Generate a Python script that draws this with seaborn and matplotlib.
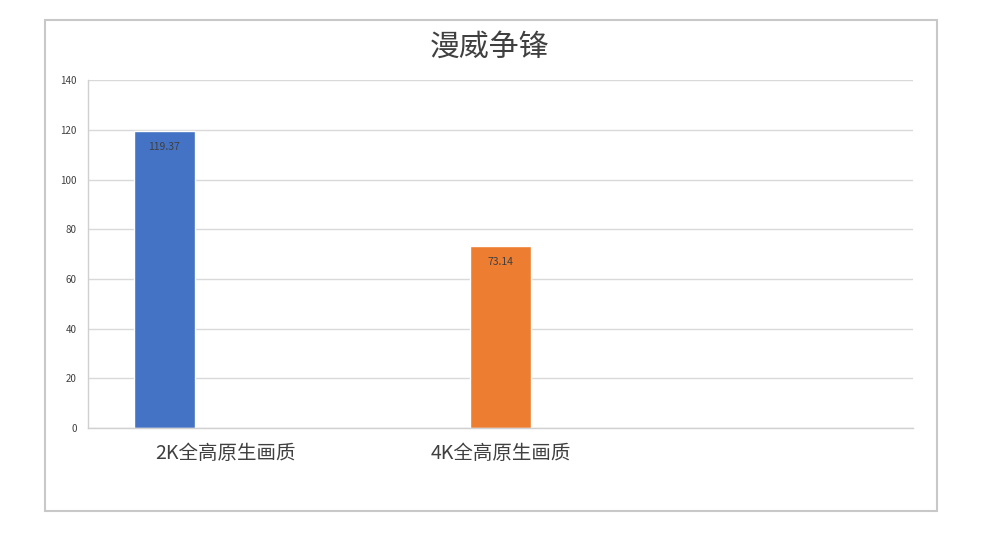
import numpy as np
import pandas as pd
import seaborn as sns
import matplotlib.pyplot as plt
from matplotlib.patches import Rectangle

# Data
categories = ['2K全高原生画质', '4K全高原生画质', '']
series = ['系列1', '系列2', '系列3']
bar_category = ['2K全高原生画质', '4K全高原生画质']
bar_series = ['系列1', '系列2']
bar_values = [119.37, 73.14]
y_ticks = [0, 20, 40, 60, 80, 100, 120, 140]

sns.set_style('white')
plt.rcParams['font.family'] = ['Noto Sans CJK SC', 'DejaVu Sans']

df = pd.DataFrame({'cat': bar_category, 'ser': bar_series, 'val': bar_values})

fig = plt.figure(figsize=(10, 5.53), dpi=100)
ax = fig.add_axes([0.088, 0.226, 0.825, 0.629])

palette = {'系列1': '#4472C4', '系列2': '#ED7D31', '系列3': '#A5A5A5'}
sns.barplot(data=df, x='cat', y='val', hue='ser', order=categories,
            hue_order=series, palette=palette, width=0.666, dodge=True,
            saturation=1, legend=False, ax=ax)

for cont in ax.containers:
    ax.bar_label(cont, fmt='%.2f', label_type='edge', padding=-15,
                 fontsize=7.5, color='#404040')

ax.set_xlim(-0.5, 2.5)
ax.set_ylim(0, 140)
ax.set_yticks(y_ticks)
ax.yaxis.grid(True, color='#d9d9d9', linewidth=1)
ax.set_axisbelow(True)
ax.tick_params(axis='y', labelsize=7, colors='#404040', length=0, pad=8)
ax.tick_params(axis='x', labelsize=14, colors='#404040', length=0, pad=11)
ax.set_xlabel('')
ax.set_ylabel('')
for s in ['top', 'right']:
    ax.spines[s].set_visible(False)
for s in ['left', 'bottom']:
    ax.spines[s].set_color('#d0d0d0')
    ax.spines[s].set_linewidth(1)

fig.text(0.49, 0.914, '漫威争锋', ha='center', va='center', fontsize=21.5, color='#404040')

# chart border
fig.patches.append(Rectangle((0.045, 1 - 511 / 553), 0.892, 491 / 553,
                             transform=fig.transFigure, fill=False,
                             edgecolor='#c8c8c8', linewidth=1.5))

fig.savefig('out.png', dpi=100)
